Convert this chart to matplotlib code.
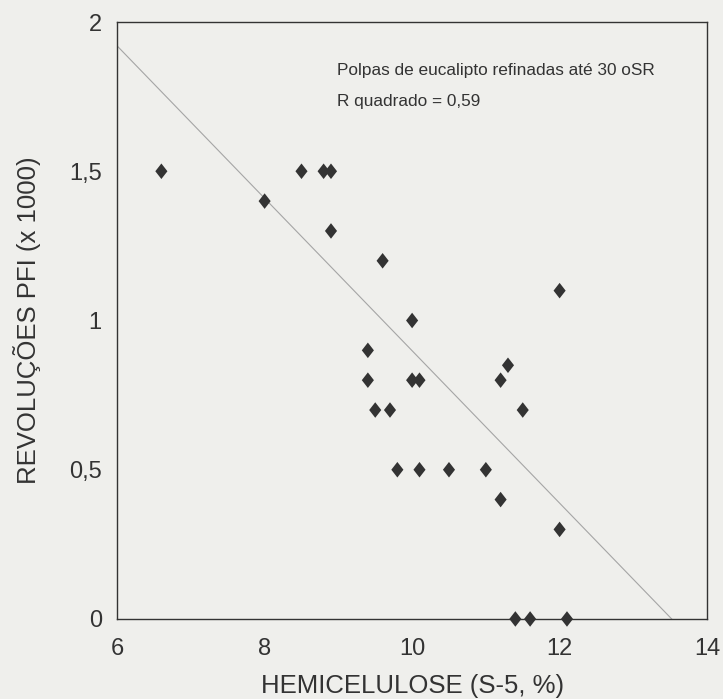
import numpy as np
import matplotlib
matplotlib.use('Agg')
import matplotlib.pyplot as plt

plt.rcParams['font.family'] = ['Liberation Sans', 'DejaVu Sans']

# hemicelulose (S-5, %) vs revolucoes PFI (x 1000)
hemicelulose = [6.6, 8.0, 8.5, 8.8, 8.9, 8.9, 9.6, 12.0, 10.0, 9.4, 9.4,
                10.0, 10.1, 11.2, 11.3, 9.5, 9.7, 11.5, 9.8, 10.1, 10.5,
                11.0, 11.2, 12.0, 11.4, 11.6, 12.1]
revolucoes = [1.5, 1.4, 1.5, 1.5, 1.5, 1.3, 1.2, 1.1, 1.0, 0.9, 0.8,
              0.8, 0.8, 0.8, 0.85, 0.7, 0.7, 0.7, 0.5, 0.5, 0.5,
              0.5, 0.4, 0.3, 0.0, 0.0, 0.0]

# linha de tendencia
linha_x = [6.0, 13.52]
linha_y = [1.92, 0.0]

x_ticks = [6, 8, 10, 12, 14]
x_labels = ['6', '8', '10', '12', '14']
y_ticks = [0, 0.5, 1, 1.5, 2]
y_labels = ['0', '0,5', '1', '1,5', '2']

bg = '#efefec'
fig = plt.figure(figsize=(7.23, 6.99), dpi=100, facecolor=bg)
ax = fig.add_axes([0.162, 0.1145, 0.816, 0.854], facecolor=bg)

# losango um pouco mais alto que largo
losango = [(0, 1), (0.78, 0), (0, -1), (-0.78, 0), (0, 1)]

ax.plot(linha_x, linha_y, color='#a5a5a5', lw=0.8, zorder=1)
ax.scatter(hemicelulose, revolucoes, marker=losango, s=125, color='#333333',
           edgecolors='none', zorder=3, clip_on=False)

ax.set_xlim(6, 14)
ax.set_ylim(0, 2)
ax.set_xticks(x_ticks)
ax.set_xticklabels(x_labels)
ax.set_yticks(y_ticks)
ax.set_yticklabels(y_labels)
ax.tick_params(length=0, labelsize=17, colors='#333333')
ax.tick_params(axis='x', pad=14)
ax.tick_params(axis='y', pad=11)

for s in ax.spines.values():
    s.set_color('#333333')
    s.set_linewidth(1.0)

ax.set_xlabel('HEMICELULOSE (S-5, %)', fontsize=18.5, color='#333333', labelpad=10)
ax.set_ylabel('REVOLUÇÕES PFI (x 1000)', fontsize=18.5, color='#333333', labelpad=20)

ax.text(8.98, 1.836, 'Polpas de eucalipto refinadas até 30 oSR', fontsize=12.4,
        color='#333333', va='center')
ax.text(8.98, 1.735, 'R quadrado = 0,59', fontsize=12.4, color='#333333', va='center')

fig.savefig('out.png', dpi=100, facecolor=bg)
